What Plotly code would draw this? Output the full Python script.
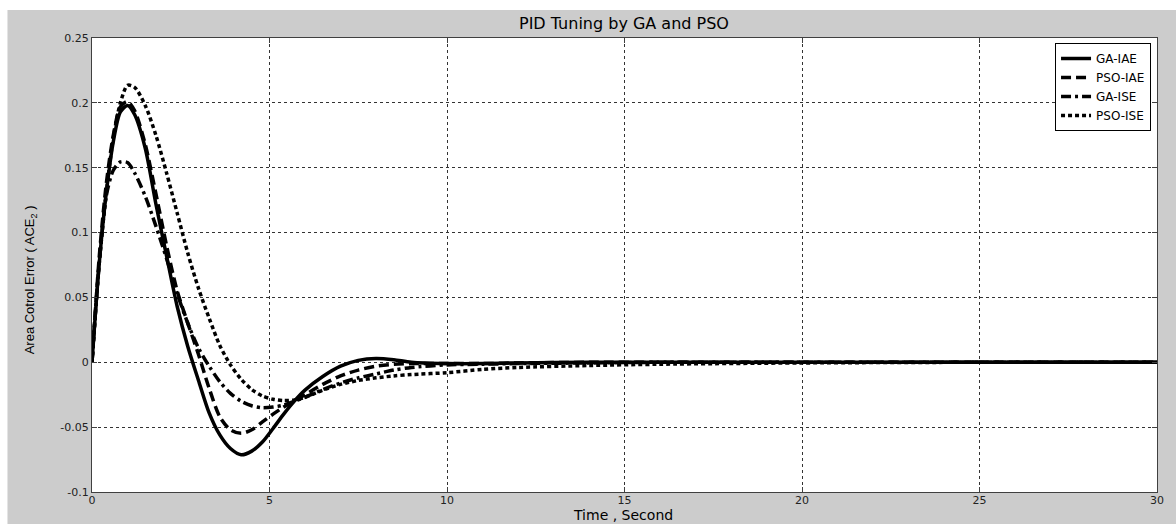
import plotly.graph_objects as go

# ---- data ----
time_s = [0, 0.2, 0.4, 0.6, 0.8, 1.0, 1.2, 1.5, 1.8, 2.1, 2.4, 2.7, 3.0, 3.3, 3.6, 3.9,
          4.2, 4.5, 4.8, 5.1, 5.4, 5.7, 6.0, 6.5, 7.0, 7.5, 8.0, 8.5, 9.0, 10, 11, 12,
          14, 16, 20, 25, 30]

ga_iae = [0, 0.075, 0.130, 0.170, 0.193, 0.198, 0.191, 0.165, 0.122, 0.082, 0.043, 0.012,
          -0.014, -0.039, -0.056, -0.0665, -0.0713, -0.0685, -0.0615, -0.051, -0.040, -0.030,
          -0.0215, -0.011, -0.003, 0.0015, 0.003, 0.002, 0.0, -0.001, -0.001, -0.0005,
          0.0, 0.0, 0.0, 0.0, 0.0]

pso_iae = [0, 0.080, 0.137, 0.175, 0.197, 0.201, 0.194, 0.168, 0.130, 0.090, 0.055, 0.030,
           0.006, -0.020, -0.042, -0.052, -0.0548, -0.052, -0.046, -0.040, -0.0345, -0.030,
           -0.025, -0.017, -0.0105, -0.006, -0.003, -0.0015, -0.001, -0.001, -0.001, -0.0005,
           0.0, 0.0, 0.0, 0.0, 0.0]

ga_ise = [0, 0.075, 0.128, 0.148, 0.1545, 0.154, 0.146, 0.128, 0.105, 0.080, 0.053, 0.030,
          0.011, -0.003, -0.015, -0.024, -0.030, -0.0335, -0.035, -0.0345, -0.033, -0.030,
          -0.027, -0.021, -0.016, -0.012, -0.009, -0.006, -0.004, -0.002, -0.0015, -0.001,
          -0.0005, 0.0, 0.0, 0.0, 0.0]

pso_ise = [0, 0.075, 0.130, 0.173, 0.200, 0.2135, 0.212, 0.198, 0.175, 0.146, 0.115, 0.084,
           0.057, 0.034, 0.013, -0.002, -0.013, -0.021, -0.026, -0.0285, -0.0295, -0.029,
           -0.027, -0.0215, -0.017, -0.014, -0.012, -0.0105, -0.0095, -0.008, -0.0055, -0.004,
           -0.0025, -0.0015, -0.0005, 0.0, 0.0]

series_names = ["GA-IAE", "PSO-IAE", "GA-ISE", "PSO-ISE"]
x_ticks = [0, 5, 10, 15, 20, 25, 30]
y_ticks = [-0.1, -0.05, 0, 0.05, 0.1, 0.15, 0.2, 0.25]
y_tick_text = ["-0.1", "-0.05", "0", "0.05", "0.1", "0.15", "0.2", "0.25"]

# ---- figure ----
W, H = 1176, 524
ML, MR, MT, MB = 92, 13, 38, 32
PW, PH = W - ML - MR, H - MT - MB


def px_x(p):
    return (p - ML) / PW


def px_y(p):
    return (H - MB - p) / PH


dashes = ["solid", "10px,5px", "10px,4px,3px,4px", "4px,3px"]
fig = go.Figure()
for name, vals, dash in zip(series_names, [ga_iae, pso_iae, ga_ise, pso_ise], dashes):
    fig.add_trace(go.Scatter(
        x=time_s, y=vals, name=name, mode="lines",
        line=dict(color="black", width=3.5, dash=dash, shape="spline", smoothing=0.8),
    ))

axis_common = dict(
    showline=True, linecolor="#404040", linewidth=1, mirror="allticks",
    ticks="inside", ticklen=5, tickcolor="#404040",
    showgrid=True, gridcolor="#333333", gridwidth=1, griddash="3px,3px",
    zeroline=False,
    tickfont=dict(family="DejaVu Sans", size=11, color="#222222"),
)

fig.update_layout(
    width=W, height=H,
    margin=dict(l=ML, r=MR, t=MT, b=MB),
    paper_bgcolor="#cccccc",
    plot_bgcolor="white",
    showlegend=True,
    legend=dict(
        x=px_x(1157), y=px_y(43), xanchor="right", yanchor="top",
        bgcolor="white", bordercolor="black", borderwidth=1,
        font=dict(family="DejaVu Sans", size=12, color="black"),
        tracegroupgap=0,
    ),
    xaxis=dict(range=[0, 30], tickvals=x_ticks, ticklabelstandoff=-2, **axis_common),
    yaxis=dict(range=[-0.1, 0.25], tickvals=y_ticks, ticktext=y_tick_text, **axis_common),
    shapes=[
        dict(type="rect", xref="paper", yref="paper", x0=-0.2, x1=1.05,
             y0=px_y(10), y1=1.2, fillcolor="white", line=dict(width=0), layer="below"),
        dict(type="rect", xref="paper", yref="paper", x0=-0.2, x1=px_x(7),
             y0=-0.2, y1=1.2, fillcolor="white", line=dict(width=0), layer="below"),
    ],
    annotations=[
        dict(text="PID Tuning by GA and PSO", xref="paper", yref="paper",
             x=px_x(627), y=px_y(23), xanchor="center", yanchor="middle", showarrow=False,
             font=dict(family="DejaVu Sans", size=16, color="black")),
        dict(text="Time , Second", xref="paper", yref="paper",
             x=px_x(626), y=px_y(515), xanchor="center", yanchor="middle", showarrow=False,
             font=dict(family="DejaVu Sans", size=14, color="black")),
        dict(text="Area Cotrol Error ( ACE<sub>2</sub> )", xref="paper", yref="paper",
             x=px_x(30), y=px_y(280), xanchor="center", yanchor="middle", showarrow=False,
             textangle=-90,
             font=dict(family="Liberation Sans", size=13, color="black")),
    ],
)

fig.write_html("out.html")
